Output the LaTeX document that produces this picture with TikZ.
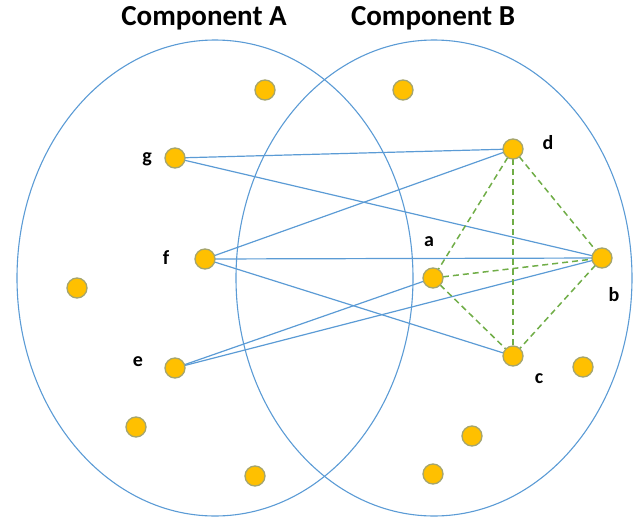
\documentclass[tikz,border=0pt]{standalone}
\usepackage{fontspec}
\setmainfont{Carlito}
\definecolor{ebl}{HTML}{5B9BD5}
\definecolor{egr}{HTML}{70AD47}
\definecolor{dotf}{HTML}{FFC000}
\definecolor{dotd}{HTML}{A5A56E}
\begin{document}
\begin{tikzpicture}[x=1pt,y=-1pt,
  dot/.style={circle,fill=dotf,draw=dotd,line width=1.3pt,minimum size=20pt,inner sep=0pt},
  lbl/.style={font=\bfseries\fontsize{20}{20}\selectfont,inner sep=0pt},
  ttl/.style={font=\bfseries\fontsize{29}{29}\selectfont,inner sep=0pt},
  comp/.style={draw=ebl,line width=1.1pt},
  sol/.style={draw=ebl,line width=1.2pt},
  dsh/.style={draw=egr,line width=1.5pt,dash pattern=on 6pt off 4pt}]
\useasboundingbox (0,0) rectangle (641,520);
\draw[comp] (215,278) ellipse [x radius=198, y radius=238];
\draw[comp] (434,278) ellipse [x radius=198, y radius=238];
\node[ttl] (tA) at (204,18) {Component A};
\node[ttl] (tB) at (433,18) {Component B};
% edges first, nodes on top
\coordinate (pg) at (175,158);
\coordinate (pf) at (205,259);
\coordinate (pe) at (175,368);
\coordinate (pd) at (513,149);
\coordinate (pa) at (433,278);
\coordinate (pb) at (602,258);
\coordinate (pc) at (513,356);
\draw[sol] (pg) -- (pd);
\draw[sol] (pg) -- (pb);
\draw[sol] (pf) -- (pd);
\draw[sol] (pf) -- (pb);
\draw[sol] (pf) -- (pc);
\draw[sol] (pe) -- (pa);
\draw[sol] (pe) -- (pb);
\draw[dsh] (pd) -- (pa);
\draw[dsh] (pd) -- (pb);
\draw[dsh] (pd) -- (pc);
\draw[dsh] (pa) -- (pb);
\draw[dsh] (pa) -- (pc);
\draw[dsh] (pb) -- (pc);
\node[dot] (g) at (pg) {};
\node[dot] (f) at (pf) {};
\node[dot] (e) at (pe) {};
\node[dot] (d) at (pd) {};
\node[dot] (a) at (pa) {};
\node[dot] (b) at (pb) {};
\node[dot] (c) at (pc) {};
\node[dot] (x1) at (265,90) {};
\node[dot] (x2) at (77,288) {};
\node[dot] (x3) at (136,427) {};
\node[dot] (x4) at (255,476) {};
\node[dot] (x5) at (403,90) {};
\node[dot] (x6) at (583,367) {};
\node[dot] (x7) at (472,436) {};
\node[dot] (x8) at (433,474) {};
\node[lbl] (lg) at (147,159) {g};
\node[lbl] (lf) at (166,258) {f};
\node[lbl] (le) at (138,362) {e};
\node[lbl] (ld) at (548,143) {d};
\node[lbl] (la) at (429,242) {a};
\node[lbl] (lb) at (614,295) {b};
\node[lbl] (lc) at (539,379) {c};
\end{tikzpicture}
\end{document}
